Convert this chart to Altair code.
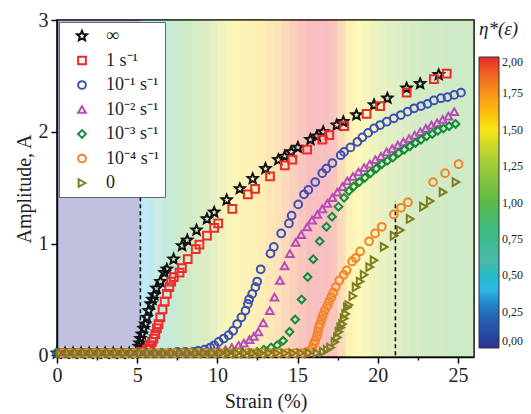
import altair as alt
import pandas as pd

# ---------------- data ----------------
series_names = ["∞", "1 s⁻¹", "10⁻¹ s⁻¹", "10⁻² s⁻¹", "10⁻³ s⁻¹", "10⁻⁴ s⁻¹", "0"]
series_colors = ["#111111", "#ee2a2a", "#3b4fb4", "#b64cb9", "#138c3c", "#f58220", "#7d7d22"]
STAR = ("M0,-1.35L0.357,-0.491L1.284,-0.417L0.578,0.188L0.794,1.092L0,0.608L-0.794,1.092"
        "L-0.578,0.188L-1.284,-0.417L-0.357,-0.491Z")
series_shapes = [STAR, "square", "circle", "triangle-up", "diamond", "circle", "triangle-right"]

INF = [(0.0, 0.02), (0.5, 0.02), (1.0, 0.02), (1.5, 0.02), (2.0, 0.02), (2.5, 0.02), (3.0, 0.02),
       (3.5, 0.02), (4.0, 0.02), (4.5, 0.02), (5.0, 0.04), (5.1, 0.08), (5.15, 0.11), (5.2, 0.15),
       (5.29, 0.19), (5.4, 0.24), (5.5, 0.28), (5.6, 0.34), (5.71, 0.40), (5.85, 0.46), (5.95, 0.50),
       (6.06, 0.54), (6.2, 0.60), (6.45, 0.66), (6.7, 0.74), (6.85, 0.77), (7.27, 0.86), (7.8, 0.98),
       (8.12, 1.03), (8.7, 1.12), (9.35, 1.22), (9.8, 1.28), (10.58, 1.39), (11.4, 1.49), (12.2, 1.58),
       (13.0, 1.67), (13.8, 1.75), (14.2, 1.78), (14.6, 1.82), (15.02, 1.86), (15.8, 1.93), (16.2, 1.96),
       (16.6, 2.00), (17.44, 2.06), (17.85, 2.09), (18.67, 2.15), (19.77, 2.24), (20.6, 2.30),
       (21.8, 2.39), (22.64, 2.43), (23.8, 2.51)]

S1 = [(0.25, 0.02), (0.75, 0.02), (1.25, 0.02), (1.75, 0.02), (2.25, 0.02), (2.75, 0.02), (3.25, 0.02),
      (3.75, 0.02), (4.25, 0.02), (4.75, 0.02), (5.25, 0.03), (5.6, 0.05), (5.7, 0.06), (5.81, 0.09),
      (5.92, 0.12), (6.02, 0.15), (6.13, 0.19), (6.23, 0.24), (6.33, 0.28), (6.44, 0.34), (6.58, 0.41),
      (6.71, 0.48), (6.85, 0.55), (7.0, 0.61), (7.12, 0.66), (7.28, 0.70), (7.64, 0.74), (7.79, 0.78),
      (8.15, 0.86), (8.65, 0.95), (8.88, 0.99), (9.35, 1.07), (9.8, 1.14), (10.05, 1.18), (10.93, 1.31),
      (11.9, 1.44), (12.35, 1.49), (13.28, 1.60), (14.2, 1.70), (14.67, 1.75), (15.6, 1.84),
      (16.54, 1.93), (16.98, 1.97), (17.9, 2.05), (19.3, 2.16), (20.15, 2.23), (21.8, 2.35),
      (23.5, 2.47), (24.3, 2.52)]

S01 = [(0.0, 0.02), (0.5, 0.02), (1.0, 0.02), (1.5, 0.02), (2.0, 0.02), (2.5, 0.02), (3.0, 0.02),
       (3.5, 0.02), (4.0, 0.02), (4.5, 0.02), (5.0, 0.02), (5.5, 0.02), (6.0, 0.02), (6.5, 0.02),
       (7.0, 0.02), (7.5, 0.03), (8.0, 0.03), (8.5, 0.03), (8.8, 0.04), (9.2, 0.05), (9.56, 0.07),
       (9.8, 0.09), (10.08, 0.12), (10.4, 0.15), (10.7, 0.18), (10.98, 0.22), (11.23, 0.28),
       (11.5, 0.34), (11.75, 0.40), (11.9, 0.46), (11.98, 0.50), (12.17, 0.55), (12.37, 0.61),
       (12.48, 0.66), (12.7, 0.77), (13.31, 0.91), (13.52, 0.97), (13.98, 1.09), (14.46, 1.18),
       (14.63, 1.25), (15.04, 1.35), (15.4, 1.44), (15.67, 1.48), (16.1, 1.55), (16.54, 1.63),
       (16.79, 1.67), (17.17, 1.72), (17.69, 1.79), (17.9, 1.82), (18.3, 1.86), (18.73, 1.91),
       (19.04, 1.95), (19.4, 1.99), (19.77, 2.03), (20.15, 2.06), (20.56, 2.09), (21.0, 2.12),
       (21.44, 2.15), (21.86, 2.18), (22.27, 2.21), (22.7, 2.23), (23.1, 2.25), (23.5, 2.28),
       (23.94, 2.30), (24.35, 2.31), (24.77, 2.33), (25.19, 2.35)]

S001 = [(0.25, 0.02), (0.75, 0.02), (1.25, 0.02), (1.75, 0.02), (2.25, 0.02), (2.75, 0.02),
        (3.25, 0.02), (3.75, 0.02), (4.25, 0.02), (4.75, 0.02), (5.25, 0.02), (5.75, 0.02),
        (6.25, 0.02), (6.75, 0.02), (7.25, 0.02), (7.75, 0.02), (8.25, 0.02), (8.75, 0.02),
        (9.25, 0.03), (9.75, 0.03), (10.1, 0.04), (10.5, 0.05), (10.9, 0.07), (11.33, 0.09),
        (11.65, 0.11), (12.0, 0.14), (12.27, 0.17), (12.55, 0.21), (12.86, 0.29), (13.27, 0.40),
        (13.56, 0.52), (13.9, 0.67), (14.19, 0.80), (14.52, 0.91), (14.88, 1.01), (15.23, 1.08),
        (15.6, 1.15), (15.9, 1.21), (16.23, 1.26), (16.54, 1.31), (16.85, 1.36), (17.17, 1.41),
        (17.48, 1.46), (17.8, 1.51), (18.1, 1.56), (18.45, 1.60), (18.8, 1.64), (19.15, 1.68),
        (19.5, 1.71), (19.85, 1.75), (20.2, 1.78), (20.55, 1.82), (20.9, 1.85), (21.25, 1.88),
        (21.6, 1.91), (21.95, 1.94), (22.3, 1.97), (22.65, 2.00), (23.0, 2.03), (23.35, 2.06),
        (23.7, 2.08), (24.05, 2.11), (24.4, 2.14), (24.77, 2.18)]

S0001 = [(0.1, 0.02), (0.6, 0.02), (1.1, 0.02), (1.6, 0.02), (2.1, 0.02), (2.6, 0.02), (3.1, 0.02),
         (3.6, 0.02), (4.1, 0.02), (4.6, 0.02), (5.1, 0.02), (5.6, 0.02), (6.1, 0.02), (6.6, 0.02),
         (7.1, 0.02), (7.6, 0.02), (8.1, 0.02), (8.6, 0.02), (9.1, 0.02), (9.6, 0.02), (10.1, 0.02),
         (10.6, 0.02), (11.1, 0.02), (11.6, 0.02), (12.1, 0.02), (12.48, 0.03), (12.9, 0.05),
         (13.35, 0.07), (13.73, 0.09), (14.1, 0.13), (14.5, 0.21), (14.85, 0.32), (15.25, 0.50),
         (15.63, 0.70), (15.98, 0.86), (16.38, 1.02), (16.8, 1.15), (17.15, 1.24), (17.55, 1.33),
         (17.9, 1.41), (18.2, 1.47), (18.5, 1.51), (18.85, 1.55), (19.2, 1.59), (19.55, 1.63),
         (19.9, 1.67), (20.25, 1.71), (20.6, 1.74), (20.95, 1.77), (21.3, 1.81), (21.65, 1.84),
         (22.0, 1.87), (22.35, 1.90), (22.7, 1.93), (23.05, 1.96), (23.4, 1.98), (23.75, 2.01),
         (24.1, 2.03), (24.45, 2.05), (24.85, 2.07)]

S00001 = [(0.35, 0.02), (0.85, 0.02), (1.35, 0.02), (1.85, 0.02), (2.35, 0.02), (2.85, 0.02),
          (3.35, 0.02), (3.85, 0.02), (4.35, 0.02), (4.85, 0.02), (5.35, 0.02), (5.85, 0.02),
          (6.35, 0.02), (6.85, 0.02), (7.35, 0.02), (7.85, 0.02), (8.35, 0.02), (8.85, 0.02),
          (9.35, 0.02), (9.85, 0.02), (10.35, 0.02), (10.85, 0.02), (11.35, 0.02), (11.85, 0.02),
          (12.35, 0.02), (12.85, 0.02), (13.35, 0.02), (13.85, 0.02), (14.35, 0.02), (14.85, 0.02),
          (15.3, 0.02), (15.6, 0.03), (15.9, 0.06), (16.0, 0.10), (16.1, 0.13), (16.2, 0.17),
          (16.27, 0.21), (16.33, 0.25), (16.4, 0.28), (16.5, 0.32), (16.58, 0.36), (16.69, 0.40),
          (16.85, 0.44), (16.96, 0.48), (17.1, 0.52), (17.23, 0.56), (17.38, 0.61), (17.6, 0.67),
          (17.88, 0.72), (18.06, 0.76), (18.4, 0.84), (18.62, 0.87), (18.9, 0.93), (19.46, 1.02),
          (19.83, 1.09), (20.25, 1.15), (21.0, 1.26), (21.45, 1.32), (21.88, 1.37), (23.45, 1.55),
          (24.2, 1.63), (25.04, 1.71)]

S0 = [(0.2, 0.02), (0.7, 0.02), (1.2, 0.02), (1.7, 0.02), (2.2, 0.02), (2.7, 0.02), (3.2, 0.02),
      (3.7, 0.02), (4.2, 0.02), (4.7, 0.02), (5.2, 0.02), (5.7, 0.02), (6.2, 0.02), (6.7, 0.02),
      (7.2, 0.02), (7.7, 0.02), (8.2, 0.02), (8.7, 0.02), (9.2, 0.02), (9.7, 0.02), (10.2, 0.02),
      (10.7, 0.02), (11.2, 0.02), (11.7, 0.02), (12.2, 0.02), (12.7, 0.02), (13.2, 0.02),
      (13.7, 0.02), (14.2, 0.02), (14.7, 0.02), (15.2, 0.02), (15.7, 0.02), (16.2, 0.02),
      (16.6, 0.03), (16.85, 0.05), (17.06, 0.07), (17.33, 0.12), (17.48, 0.16), (17.58, 0.21),
      (17.69, 0.25), (17.8, 0.28), (17.9, 0.33), (18.0, 0.37), (18.1, 0.43), (18.2, 0.45),
      (18.45, 0.53), (18.65, 0.61), (18.9, 0.66), (19.15, 0.72), (19.5, 0.79), (19.77, 0.85),
      (20.4, 0.97), (21.02, 1.07), (21.4, 1.12), (22.02, 1.22), (22.85, 1.33), (23.27, 1.38),
      (24.07, 1.46), (24.88, 1.55)]

series_data = [INF, S1, S01, S001, S0001, S00001, S0]

# background eta*(strain) bands: (start strain, end strain, eta*)
BANDS = [(0.0, 5.2, 0.0), (5.2, 5.6, 0.42), (5.6, 6.0, 0.5), (6.0, 6.5, 0.6), (6.5, 7.0, 0.72),
         (7.0, 7.5, 0.88), (7.5, 8.0, 1.0), (8.0, 8.5, 1.05), (8.5, 9.0, 1.1), (9.0, 9.5, 1.18),
         (9.5, 10.0, 1.28), (10.0, 10.5, 1.38), (10.5, 11.0, 1.46), (11.0, 11.5, 1.52),
         (11.5, 12.0, 1.55), (12.0, 12.5, 1.56), (12.5, 13.0, 1.6), (13.0, 13.5, 1.66),
         (13.5, 14.0, 1.72), (14.0, 14.5, 1.8), (14.5, 15.0, 1.88), (15.0, 15.5, 1.95),
         (15.5, 16.0, 2.0), (16.0, 16.5, 2.0), (16.5, 17.0, 2.0), (17.0, 17.5, 1.96),
         (17.5, 18.0, 1.78), (18.0, 18.5, 1.56), (18.5, 19.0, 1.5), (19.0, 19.5, 1.45),
         (19.5, 20.0, 1.38), (20.0, 20.5, 1.32), (20.5, 21.0, 1.27), (21.0, 21.5, 1.22),
         (21.5, 22.0, 1.17), (22.0, 22.5, 1.12), (22.5, 23.0, 1.08), (23.0, 24.0, 1.04),
         (24.0, 26.0, 1.02)]

eta_domain = [0.0, 0.25, 0.4, 0.6, 1.0, 1.25, 1.5, 1.75, 2.0]
eta_colors = ["#2e3192", "#2b6cb5", "#2bb8e8", "#4db9a8", "#5cb947", "#9cc93b", "#f7e61a",
              "#f7941d", "#e52a2a"]
eta_ticks = [0.0, 0.25, 0.5, 0.75, 1.0, 1.25, 1.5, 1.75, 2.0]

DASHED = [(5.2, 0.0, 1.42), (21.1, 0.0, 1.38)]

x_ticks = [0, 2.5, 5, 7.5, 10, 12.5, 15, 17.5, 20, 22.5, 25]
y_ticks = [0, 0.5, 1, 1.5, 2, 2.5, 3]

# ---------------- build tables ----------------
rows = []
for name, pts in zip(series_names, series_data):
    for s, a in pts:
        rows.append({"strain": s, "amp": a, "series": name})
pts_df = pd.DataFrame(rows)
bg_df = pd.DataFrame(BANDS, columns=["s0", "s1", "eta"])
dash_df = pd.DataFrame(DASHED, columns=["s", "a0", "a1"])

FONT = "Liberation Serif"
W, H = 417, 337

x_scale = alt.Scale(domain=[0, 26], nice=False, zero=False)
y_scale = alt.Scale(domain=[-0.015, 3.0], nice=False, zero=False)

x_axis = alt.Axis(values=x_ticks, title="Strain (%)", grid=False, format="d",
                  labelExpr="datum.value % 5 === 0 ? datum.label : ''",
                  tickSize={"condition": {"test": "datum.value % 5 === 0", "value": 6}, "value": 3},
                  labelFont=FONT, labelFontSize=20, labelColor="#222", labelPadding=2,
                  titleFont=FONT, titleFontSize=20, titleFontWeight="normal", titleColor="#222",
                  titlePadding=6, domainColor="black", domainWidth=1.5, tickColor="black",
                  tickWidth=1.5, labelFlush=False)
y_axis = alt.Axis(values=y_ticks, title="Amplitude, A", grid=False, format="d",
                  labelExpr="datum.value % 1 === 0 ? datum.label : ''",
                  tickSize={"condition": {"test": "datum.value % 1 === 0", "value": 6}, "value": 3},
                  labelFont=FONT, labelFontSize=20, labelColor="#222", labelPadding=3,
                  titleFont=FONT, titleFontSize=20, titleFontWeight="normal", titleColor="#222",
                  titlePadding=4, domainColor="black", domainWidth=1.5, tickColor="black",
                  tickWidth=1.5, labelFlush=False)

background = alt.Chart(bg_df).mark_rect(fillOpacity=0.3, strokeWidth=0).encode(
    x=alt.X("s0:Q", scale=x_scale, axis=x_axis),
    x2="s1:Q",
    color=alt.Color("eta:Q", scale=alt.Scale(domain=eta_domain, range=eta_colors),
                    legend=alt.Legend(title="η*(ε)", orient="right", offset=5,
                                      direction="vertical", gradientLength=291,
                                      gradientThickness=20, values=eta_ticks,
                                      labelExpr="replace(format(datum.value, '.2f'), '.', ',')",
                                      labelFont=FONT, labelFontSize=12, labelColor="#222",
                                      labelOffset=3, titleFont=FONT, titleFontSize=19,
                                      titleFontStyle="italic", titleFontWeight="normal",
                                      titleColor="#222", titlePadding=18,
                                      gradientStrokeColor="#333", gradientStrokeWidth=1)),
)

legend_pts = alt.Legend(title=None, orient="top-left", offset=2, fillColor="white",
                        strokeColor="#666", padding=5, labelFont=FONT, labelFontSize=18,
                        labelColor="#222", symbolStrokeWidth=2, symbolSize=60, rowPadding=6.5,
                        symbolOffset=9, labelOffset=15)

points = alt.Chart(pts_df).mark_point(filled=False, strokeWidth=2, size=60, opacity=1).encode(
    x=alt.X("strain:Q", scale=x_scale, axis=x_axis),
    y=alt.Y("amp:Q", scale=y_scale, axis=y_axis),
    stroke=alt.Stroke("series:N", scale=alt.Scale(domain=series_names, range=series_colors),
                      legend=legend_pts),
    shape=alt.Shape("series:N", scale=alt.Scale(domain=series_names, range=series_shapes),
                    legend=legend_pts),
)

dashes = alt.Chart(dash_df).mark_rule(color="black", strokeWidth=1.5, strokeDash=[4, 3]).encode(
    x=alt.X("s:Q", scale=x_scale, axis=x_axis),
    y=alt.Y("a0:Q", scale=y_scale, axis=y_axis),
    y2="a1:Q",
)

chart = alt.layer(background, dashes, points).properties(
    width=W, height=H,
    autosize=alt.AutoSizeParams(type="none"),
    padding={"left": 49, "top": 12, "right": 49, "bottom": 57},
).configure_view(stroke="black", strokeWidth=1.5)

chart.save("out.html", embed_options={"renderer": "svg", "actions": False})
